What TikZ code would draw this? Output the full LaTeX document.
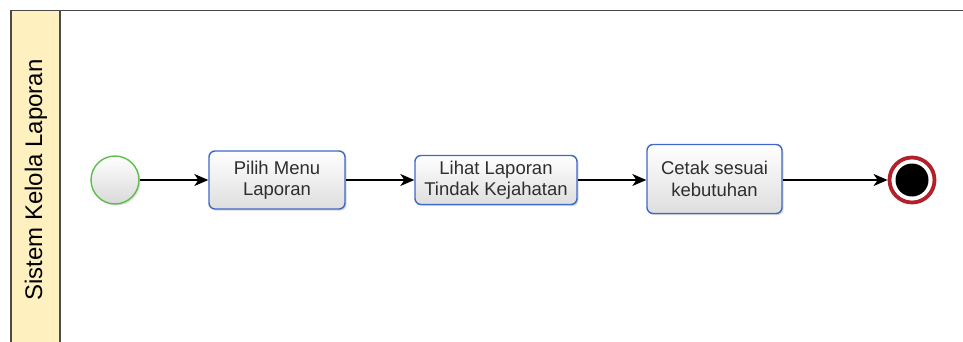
\documentclass[tikz,border=0pt]{standalone}
\usepackage{fontspec}
\setmainfont{Liberation Sans}
\usetikzlibrary{arrows.meta,shadows,calc}
\definecolor{laneborder}{HTML}{4A4A4A}
\definecolor{lanehead}{HTML}{FFF0BF}
\definecolor{taskblue}{HTML}{3F68C8}
\definecolor{startgreen}{HTML}{5CBF4A}
\definecolor{endred}{HTML}{B3202A}
\tikzset{
  x=1pt, y=-1pt,
  taskbox/.style={draw=taskblue, line width=1.4pt, rounded corners=6pt,
    top color=white, bottom color=black!13, align=center,
    font=\fontsize{18.5}{21.5}\selectfont, text=black!82,
    drop shadow={shadow xshift=1.5pt, shadow yshift=-1.5pt, opacity=0.25, fill=black!60},
    inner sep=0pt},
  flow/.style={line width=1.6pt, -{Stealth[length=14pt,width=12pt,inset=4pt]}},
}
\begin{document}
\begin{tikzpicture}
\useasboundingbox (0,0) rectangle (963,342);
% pool outline and lane header
\fill[white] (0,0) rectangle (963,342);
\draw[laneborder, line width=1.8pt] (11,345) -- (11,10.5) -- (965,10.5);
\filldraw[fill=lanehead, draw=laneborder, line width=1.4pt] (11,10.5) rectangle (60,345);
\node[rotate=90, font=\fontsize{24}{28}\selectfont] (lane) at (36,180) {Sistem Kelola Laporan};

% start event
\node[circle, minimum size=48pt, draw=startgreen, line width=1.4pt,
  top color=white, bottom color=black!15,
  drop shadow={shadow xshift=1.5pt, shadow yshift=-1.5pt, opacity=0.2, fill=black!60}] (start) at (115,180) {};

% tasks
\node[taskbox, minimum width=136pt, minimum height=58pt] (t1) at (277,180) {Pilih Menu\\Laporan};
\node[taskbox, minimum width=162pt, minimum height=49pt] (t2) at (496,180) {Lihat Laporan\\Tindak Kejahatan};
\node[taskbox, minimum width=135pt, minimum height=69pt] (t3) at (714.5,179) {Cetak sesuai\\kebutuhan};

% end event
\node[circle, minimum size=45pt, draw=endred, line width=3.8pt, fill=white,
  drop shadow={shadow xshift=1.5pt, shadow yshift=-1.5pt, opacity=0.25, fill=black!60}] (end) at (912,180) {};
\node[circle, minimum size=33pt, fill=black] (endcore) at (end.center) {};

% sequence flows
\draw[flow] (start) -- (t1);
\draw[flow] (t1) -- (t2);
\draw[flow] (t2.east) -- (t2.east -| t3.west);
\draw[flow] (t3.east |- end) -- (end);
\end{tikzpicture}
\end{document}
